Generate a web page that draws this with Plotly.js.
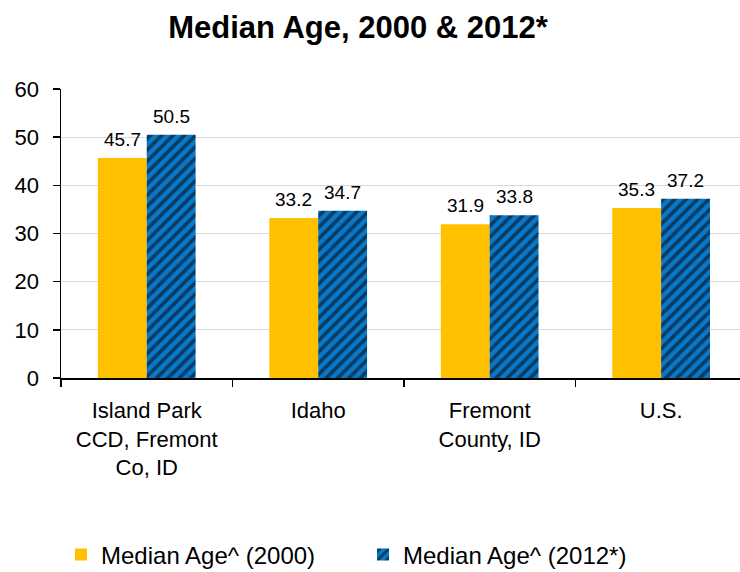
<!DOCTYPE html>
<html><head><meta charset="utf-8">
<script src="https://cdn.plot.ly/plotly-3.0.1.min.js"></script>
<style>html,body{margin:0;padding:0;background:#fff}#chart{width:740px;height:572px}</style>
</head><body><div id="chart"></div>
<script>
const categories = ["Island Park<br>CCD, Fremont<br>Co, ID", "Idaho", "Fremont<br>County, ID", "U.S."];
const age2000 = [45.7, 33.2, 31.9, 35.3];
const age2012 = [50.5, 34.7, 33.8, 37.2];
const seriesNames = ["Median Age^ (2000)", "Median Age^ (2012*)"];
const font = "Liberation Sans, Arial, sans-serif";

const traces = [
  {type:"bar", x:categories, y:age2000, name:seriesNames[0],
   marker:{color:"#FFC000", line:{width:0}}},
  {type:"bar", x:categories, y:age2012, name:seriesNames[1],
   marker:{color:"#0A78C8", line:{width:0},
     pattern:{shape:"/", fgcolor:"#000", bgcolor:"#0A78C8", size:8, solidity:0.45, fillmode:"overlay"}}}
];

const annotations = [];
[age2000, age2012].forEach((vals, s) => {
  vals.forEach((v, i) => {
    annotations.push({x:categories[i], y:v, xref:"x", yref:"y", text:v.toFixed(1),
      showarrow:false, xshift: s === 0 ? -24.5 : 24.5, yanchor:"bottom", yshift:6,
      font:{size:19, family:font, color:"#000"}});
  });
});

const layout = {
  width:740, height:572,
  margin:{l:61, r:0, t:89, b:194, autoexpand:false},
  paper_bgcolor:"#fff", plot_bgcolor:"#fff",
  font:{family:font, color:"#000"},
  title:{text:"<b>Median Age, 2000 & 2012*</b>", font:{size:31, family:font, color:"#000"},
    x:358/740, xanchor:"center", xref:"container", y:1-27/572, yanchor:"middle", yref:"container"},
  barmode:"group", bargap:0.43, bargroupgap:0,
  annotations: annotations,
  xaxis:{type:"category", range:[-0.5, 3.46], showline:true, linecolor:"#000", linewidth:1.5,
    ticks:"outside", tickson:"boundaries", ticklen:7, tickcolor:"#000", tickwidth:1.5,
    ticklabelstandoff:12, automargin:false,
    tickfont:{size:22, family:font, color:"#000"}, showgrid:false, zeroline:false},
  yaxis:{range:[0,60], dtick:10, showline:true, linecolor:"#000", linewidth:1.5,
    ticks:"outside", ticklen:7, tickcolor:"#000", tickwidth:1.5, automargin:false,
    tickfont:{size:22, family:font, color:"#000"}, ticklabelstandoff:9,
    showgrid:true, gridcolor:"#D9D9D9", gridwidth:1, zeroline:false},
  legend:{orientation:"h", x:81/740 - 0.027, xref:"container", xanchor:"left",
    y:1-555/572, yref:"container", yanchor:"middle",
    font:{size:24, family:font, color:"#000"}, itemwidth:30, tracegroupgap:0,
    entrywidth:257, entrywidthmode:"pixels",
    traceorder:"normal", itemsizing:"constant"},
  showlegend:true
};

Plotly.newPlot("chart", traces, layout, {displayModeBar:false, staticPlot:true});
</script>
</body></html>
